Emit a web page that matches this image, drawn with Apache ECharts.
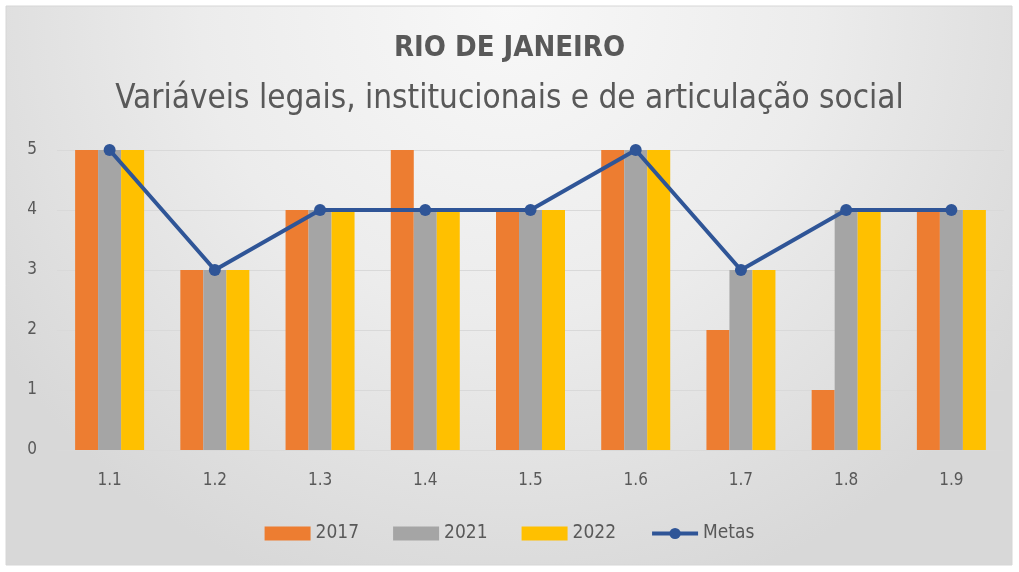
<!DOCTYPE html>
<html><head><meta charset="utf-8">
<script src="https://cdn.jsdelivr.net/npm/echarts@6/dist/echarts.min.js"></script>
<style>html,body{margin:0;padding:0;background:#fff}#c{width:1019px;height:572px}</style>
</head><body><div id="c"></div>
<script>
const categories = ['1.1','1.2','1.3','1.4','1.5','1.6','1.7','1.8','1.9'];
const s2017 = [5,3,4,5,4,5,2,1,4];
const s2021 = [5,3,4,4,4,5,3,4,4];
const s2022 = [5,3,4,4,4,5,3,4,4];
const metas = [5,3,4,4,4,5,3,4,4];
const yTicks = [0,1,2,3,4,5];

const font = '"Liberation Sans Narrow", "DejaVu Sans Condensed", "Open Sans", sans-serif';
const chart = echarts.init(document.getElementById('c'));
const barCommon = {type:'bar', barWidth:23, barGap:'0%', barCategoryGap:'34%'};
chart.setOption({
  animation:false,
  graphic:[{type:'rect', z:-10, silent:true, shape:{x:6,y:6,width:1006,height:559},
    style:{stroke:'#d6d6d6', lineWidth:1,
      fill:{type:'radial', x:0.5, y:0.0, r:1.1, colorStops:[{offset:0,color:'#f8f8f8'},{offset:0.5,color:'#ececec'},{offset:1,color:'#d8d8d8'}]}}}],
  title:[
    {text:'RIO DE JANEIRO', left:'center', top:29, textStyle:{fontFamily:font, fontSize:29, fontWeight:'bold', color:'#595959'}},
    {text:'Variáveis legais, institucionais e de articulação social', left:'center', top:78, textStyle:{fontFamily:font, fontSize:33, fontWeight:'normal', color:'#595959'}}
  ],
  grid:{left:57, right:15, top:150, bottom:122, containLabel:false},
  xAxis:{type:'category', data:categories, axisTick:{show:false}, axisLine:{show:false},
    axisLabel:{fontFamily:font, fontSize:17, color:'#595959', margin:22}},
  yAxis:{type:'value', min:0, max:5, interval:1, axisLine:{show:false}, axisTick:{show:false},
    splitLine:{lineStyle:{color:'#d9d9d9', width:1}},
    axisLabel:{fontFamily:font, fontSize:17, color:'#595959', margin:20,
      formatter:v=>yTicks.includes(v)?String(v):''}},
  legend:{bottom:24, left:'center', itemWidth:46, itemHeight:14, itemGap:34,
    textStyle:{fontFamily:font, fontSize:19, color:'#595959'},
    data:[{name:'2017',icon:'rect'},{name:'2021',icon:'rect'},{name:'2022',icon:'rect'},
      {name:'Metas', lineStyle:{width:4, color:'#2F5597'}, itemStyle:{color:'#2F5597'}}]},
  series:[
    Object.assign({name:'2017', data:s2017, itemStyle:{color:'#ED7D31'}}, barCommon),
    Object.assign({name:'2021', data:s2021, itemStyle:{color:'#A5A5A5'}}, barCommon),
    Object.assign({name:'2022', data:s2022, itemStyle:{color:'#FFC000'}}, barCommon),
    {name:'Metas', type:'line', data:metas, symbol:'circle', symbolSize:12, z:5,
      lineStyle:{color:'#2F5597', width:4}, itemStyle:{color:'#2F5597'}}
  ]
});
</script></body></html>
